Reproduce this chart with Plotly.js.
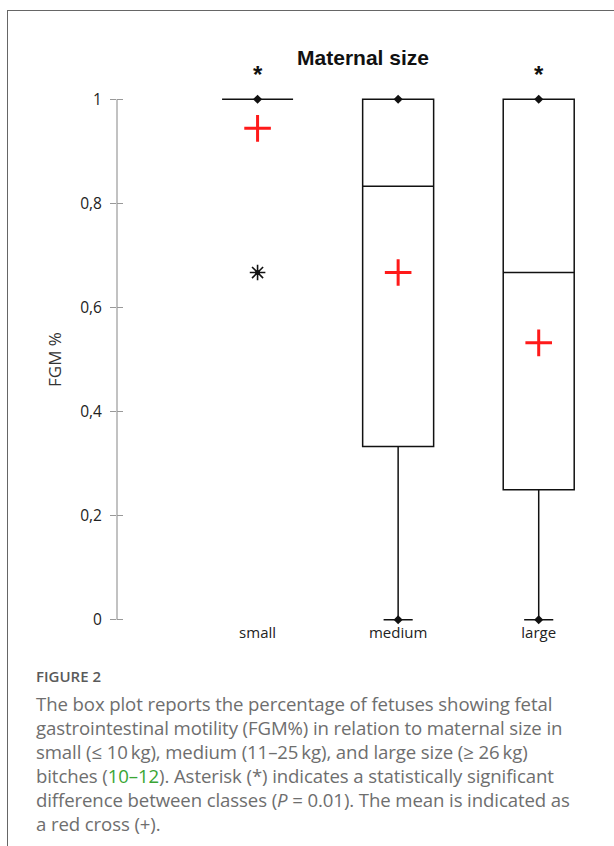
<!DOCTYPE html>
<html>
<head>
<meta charset="utf-8">
<script src="https://cdn.plot.ly/plotly-3.0.1.min.js"></script>
<style>
  html, body { margin: 0; padding: 0; background: #fff; }
  body { width: 614px; height: 846px; position: relative; overflow: hidden; }
  #frame { position: absolute; left: 7px; top: 10px; width: 620px; height: 850px;
           border-top: 1px solid #666; border-left: 1px solid #666; }
  #chart { position: absolute; left: 0; top: 0; width: 614px; height: 846px; }
  #cap { position: absolute; left: 36px; top: 666px; font-family: "Open Sans", sans-serif; color: #6e6e6e; }
  #cap .fig { font-size: 15px; line-height: 20px; color: #5a5a5a; font-weight: 600; margin-bottom: 6px; }
  #cap p { margin: 0; font-size: 18.6px; line-height: 24px; letter-spacing: -0.1px; }
  #cap .ref { color: #3aa534; }
</style>
</head>
<body>
<div id="frame"></div>
<div id="chart"></div>
<div id="cap">
  <div class="fig">FIGURE 2</div>
  <p>The box plot reports the percentage of fetuses showing fetal<br>gastrointestinal motility (FGM%) in relation to maternal size in<br>small (≤ 10&thinsp;kg), medium (11–25&thinsp;kg), and large size (≥ 26&thinsp;kg)<br>bitches (<span class="ref">10–12</span>). Asterisk (*) indicates a statistically significant<br>difference between classes (<i>P</i> = 0.01). The mean is indicated as<br>a red cross (+).</p>
</div>
<script>
// ---- data ----
const categories = ["small", "medium", "large"];
const q1 = [1, 0.333, 0.25];
const median = [1, 0.833, 0.667];
const q3 = [1, 1, 1];
const whiskerLow = [1, 0, 0];
const whiskerHigh = [1, 1, 1];
const means = [0.944, 0.667, 0.532];
const outlierCats = ["small"];
const outlierVals = [0.667];
const signifCats = ["small", "large"];
const yTickVals = [0, 0.2, 0.4, 0.6, 0.8, 1];

const black = "#111";
const traces = [];

traces.push({
  type: "box",
  x: categories,
  q1: q1, median: median, q3: q3,
  lowerfence: whiskerLow, upperfence: whiskerHigh,
  width: 0.505,
  whiskerwidth: 0.41,
  fillcolor: "rgba(0,0,0,0)",
  line: { color: black, width: 1.5 },
  boxpoints: false,
  hoverinfo: "skip",
  showlegend: false
});

// diamonds at min and max whisker ends
const dX = [], dY = [];
categories.forEach((c, i) => {
  dX.push(c); dY.push(whiskerHigh[i]);
  if (whiskerLow[i] !== whiskerHigh[i]) { dX.push(c); dY.push(whiskerLow[i]); }
});
traces.push({
  type: "scatter", mode: "markers", x: dX, y: dY,
  marker: { symbol: "diamond", size: 7, color: black },
  cliponaxis: false, hoverinfo: "skip", showlegend: false
});

// outlier
traces.push({
  type: "scatter", mode: "markers", x: outlierCats, y: outlierVals,
  marker: { symbol: "asterisk-open", size: 13, color: black, line: { color: black, width: 1.6 } },
  cliponaxis: false, hoverinfo: "skip", showlegend: false
});
traces.push({
  type: "scatter", mode: "markers", x: outlierCats, y: outlierVals,
  marker: { symbol: "circle", size: 5, color: black },
  cliponaxis: false, hoverinfo: "skip", showlegend: false
});

// means
traces.push({
  type: "scatter", mode: "markers", x: categories, y: means,
  marker: { symbol: "cross-thin-open", size: 19, color: "#ff1a1a", line: { color: "#ff1a1a", width: 3 } },
  cliponaxis: false, hoverinfo: "skip", showlegend: false
});

// dummy trace for inner ticks axis
traces.push({
  type: "scatter", mode: "markers", x: [categories[0]], y: [0.5], yaxis: "y2",
  marker: { size: 0.1, opacity: 0 }, hoverinfo: "skip", showlegend: false
});

const yr = [-0.01, 1.01];
const layout = {
  width: 614, height: 846,
  margin: { l: 117, r: 5, t: 94, b: 221 },
  paper_bgcolor: "rgba(0,0,0,0)",
  plot_bgcolor: "rgba(0,0,0,0)",
  separators: ", ",
  font: { family: "Open Sans, sans-serif", color: "#333" },
  title: {
    text: "<b>Maternal size</b>",
    font: { family: "Liberation Sans, Arial, sans-serif", size: 21, color: "#111" },
    xref: "paper", x: 0.5, xanchor: "center",
    yref: "container", y: 1 - 58 / 846, yanchor: "middle"
  },
  xaxis: {
    type: "category",
    categoryorder: "array", categoryarray: categories,
    range: [-1, 2.5],
    showline: false, showgrid: false, zeroline: false,
    ticks: "", tickfont: { size: 15, color: "#222" },
    ticklabelstandoff: -3,
    fixedrange: true
  },
  yaxis: {
    range: yr,
    tickvals: yTickVals,
    showline: false, showgrid: false, zeroline: false,
    ticks: "outside", ticklen: 6, tickcolor: "#999", tickwidth: 1,
    tickfont: { size: 15.5, color: "#222" },
    ticklabelstandoff: 5,
    title: { text: "FGM %", font: { size: 17, color: "#333" }, standoff: 14 },
    fixedrange: true
  },
  yaxis2: {
    overlaying: "y", range: yr, tickvals: yTickVals,
    showticklabels: false, showline: false, showgrid: false, zeroline: false,
    ticks: "inside", ticklen: 6, tickcolor: "#999", tickwidth: 1,
    fixedrange: true
  },
  shapes: [{
    type: "line", xref: "paper", yref: "y", x0: 0, x1: 0, y0: 0, y1: 1,
    line: { color: "#999", width: 1.2 }
  }],
  annotations: signifCats.map(c => ({
    x: c, xref: "x", y: 1.036, yref: "paper", text: "<b>*</b>", showarrow: false,
    font: { family: "Liberation Sans, Arial, sans-serif", size: 24, color: "#111" },
    yanchor: "middle"
  }))
};

Plotly.newPlot("chart", traces, layout, { staticPlot: true, displayModeBar: false });
</script>
</body>
</html>
